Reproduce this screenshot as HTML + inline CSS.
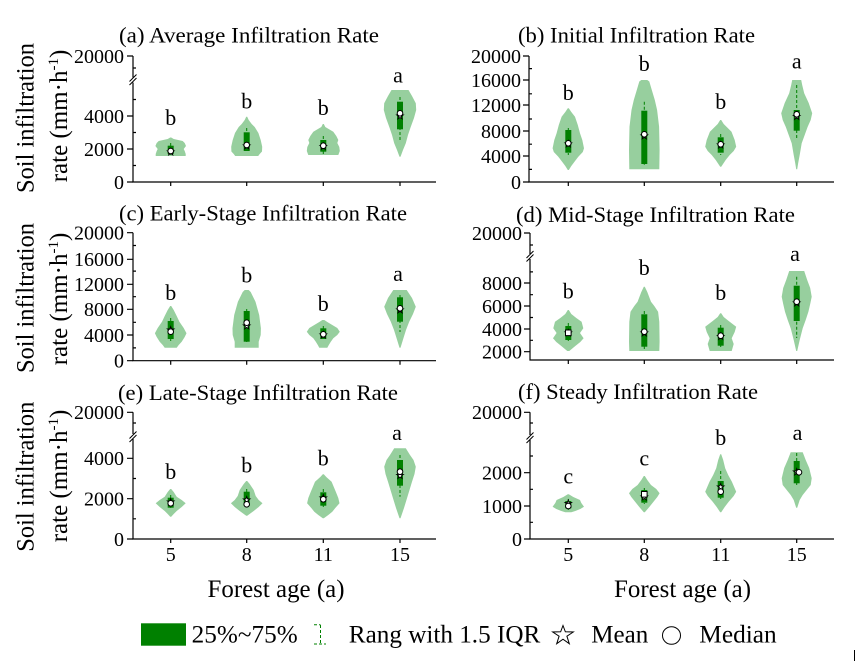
<!DOCTYPE html>
<html><head><meta charset="utf-8"><style>
html,body{margin:0;padding:0;background:#fff;}
svg{display:block;}
text{font-family:"Liberation Serif","Times New Roman",serif;fill:#000;}
.tk{font-size:20px;text-anchor:end;}
.xt{font-size:20px;text-anchor:middle;}
.tt{font-size:22px;}
.lt{font-size:22px;text-anchor:middle;}
.yl{font-size:25px;text-anchor:middle;}
.v{fill:#97cf9e;}
.bx{fill:#008000;}
.wh{stroke:#008000;stroke-width:1;stroke-dasharray:3,2;}
.ax{stroke:#000;stroke-width:1.2;fill:none;}
.md{fill:#fff;stroke:#000;stroke-width:1;}
</style></head><body>
<svg width="857" height="663" viewBox="0 0 857 663" xmlns="http://www.w3.org/2000/svg">
<defs>
<polygon id="st" points="0,-3.5 0.82,-1.13 3.33,-1.08 1.33,0.43 2.06,2.83 0,1.4 -2.06,2.83 -1.33,0.43 -3.33,-1.08 -0.82,-1.13" fill="#fff" stroke="#000" stroke-width="0.9"/>
</defs>
<rect width="857" height="663" fill="#fff"/>

<!-- Titles -->
<text class="tt" x="119" y="42.5" textLength="260" lengthAdjust="spacingAndGlyphs">(a) Average Infiltration Rate</text>
<text class="tt" x="518" y="42.5" textLength="237" lengthAdjust="spacingAndGlyphs">(b) Initial Infiltration Rate</text>
<text class="tt" x="119" y="220.7" textLength="288" lengthAdjust="spacingAndGlyphs">(c) Early-Stage Infiltration Rate</text>
<text class="tt" x="516" y="222" textLength="279" lengthAdjust="spacingAndGlyphs">(d) Mid-Stage Infiltration Rate</text>
<text class="tt" x="118" y="400" textLength="280" lengthAdjust="spacingAndGlyphs">(e) Late-Stage Infiltration Rate</text>
<text class="tt" x="518" y="399" textLength="240" lengthAdjust="spacingAndGlyphs">(f) Steady Infiltration Rate</text>

<!-- Y axis titles -->
<text class="yl" transform="translate(33.5,118) rotate(-90)" textLength="150" lengthAdjust="spacingAndGlyphs">Soil infiltration</text>
<text class="yl" transform="translate(67,116) rotate(-90)">rate (mm·h<tspan font-size="15" dy="-9">-1</tspan><tspan dy="9">)</tspan></text>
<text class="yl" transform="translate(33.5,298) rotate(-90)" textLength="150" lengthAdjust="spacingAndGlyphs">Soil infiltration</text>
<text class="yl" transform="translate(67,299) rotate(-90)">rate (mm·h<tspan font-size="15" dy="-9">-1</tspan><tspan dy="9">)</tspan></text>
<text class="yl" transform="translate(33.5,476.7) rotate(-90)" textLength="150" lengthAdjust="spacingAndGlyphs">Soil infiltration</text>
<text class="yl" transform="translate(67,476) rotate(-90)">rate (mm·h<tspan font-size="15" dy="-9">-1</tspan><tspan dy="9">)</tspan></text>

<!-- ===== Panel (a) ===== -->
<g>
<path class="ax" d="M133,56 V77.5 M133,82.5 V182 H436"/>
<path class="ax" d="M127,56 H133 M127,116 H133 M127,149 H133 M127,182 H133 M133,99.5 H136 M133,132.5 H136 M133,165.5 H136 M133,68 H136"/>
<path d="M129.5,81.5 L136.5,74.5 M129.5,85 L136.5,78" stroke="#000" stroke-width="1"/>
<path class="ax" d="M170.7,182 v4 M246.7,182 v4 M323.3,182 v4 M400,182 v4"/>
<text class="tk" x="124" y="62.8">20000</text>
<text class="tk" x="124" y="122.8">4000</text>
<text class="tk" x="124" y="155.8">2000</text>
<text class="tk" x="124" y="188.8">0</text>
<polygon class="v" transform="translate(170.7,0)" points="0.5,137.5 3,139 12,141 14,143 15.3,146 13,149 14,151 15,154 15,156 -15,156 -15,154 -14,151 -13,149 -15.3,146 -14,143 -12,141 -3,139 -0.5,137.5"/>
<polygon class="v" transform="translate(246.7,0)" points="0.5,116.7 2,120 5,124 8,127 11.7,133 14,140 15.5,146.7 15.3,151.5 13,154 11.5,156 -11.5,156 -13,154 -15.3,151.5 -15.5,146.7 -14,140 -11.7,133 -8,127 -5,124 -2,120 -0.5,116.7"/>
<polygon class="v" transform="translate(323.3,0)" points="0.5,124 2,127 10,131.7 13,136 15,140 14,143 16,147 16.5,151 15,155 -15,155 -16.5,151 -16,147 -14,143 -15,140 -13,136 -10,131.7 -2,127 -0.5,124"/>
<polygon class="v" transform="translate(400,0)" points="8.5,90 12,96 15.8,103.3 16.2,110 14,118 10.8,126.7 8,135 5.8,143.3 3,150 0.5,156.7 -0.5,156.7 -3,150 -5.8,143.3 -8,135 -10.8,126.7 -14,118 -16.2,110 -15.8,103.3 -12,96 -8.5,90"/>
<path class="wh" d="M170.7,143 V155 M246.7,128 V153 M323.3,136 V154 M400,97 V140"/>
<rect class="bx" x="167.7" y="145.7" width="6" height="8.3"/>
<rect class="bx" x="243.7" y="132.3" width="6" height="18.7"/>
<rect class="bx" x="320.3" y="140" width="6" height="11.7"/>
<rect class="bx" x="397" y="101.7" width="6" height="27.6"/>
<use href="#st" x="170.7" y="152"/><circle class="md" cx="170.7" cy="151" r="2.8"/>
<use href="#st" x="246.7" y="146"/><circle class="md" cx="246.7" cy="145" r="2.8"/>
<use href="#st" x="323.3" y="146.5"/><circle class="md" cx="323.3" cy="145.7" r="2.8"/>
<use href="#st" x="400" y="116"/><circle class="md" cx="400" cy="113.3" r="2.8"/>
<text class="lt" x="170.7" y="125">b</text>
<text class="lt" x="246.7" y="108.3">b</text>
<text class="lt" x="323.3" y="115">b</text>
<text class="lt" x="398" y="82.7">a</text>
</g>

<!-- ===== Panel (b) ===== -->
<g>
<path class="ax" d="M529,56 V182 H834"/>
<path class="ax" d="M523,56 H529 M523,80 H529 M523,105 H529 M523,131 H529 M523,156 H529 M523,182 H529 M529,169.4 H532 M529,144.2 H532 M529,119 H532 M529,93.8 H532 M529,68.6 H532"/>
<path class="ax" d="M568.3,182 v4 M644.3,182 v4 M720.7,182 v4 M796.7,182 v4"/>
<text class="tk" x="521" y="62.8">20000</text>
<text class="tk" x="521" y="86.8">16000</text>
<text class="tk" x="521" y="111.8">12000</text>
<text class="tk" x="521" y="137.8">8000</text>
<text class="tk" x="521" y="162.8">4000</text>
<text class="tk" x="521" y="188.8">0</text>
<polygon class="v" transform="translate(568.3,0)" points="0.5,108.3 3,112 6.7,116.7 9.5,125 11.7,133.3 14,140 15.7,148.3 14.5,152 10,156.7 6,162 3,166 0.5,170 -0.5,170 -3,166 -6,162 -10,156.7 -14.5,152 -15.7,148.3 -14,140 -11.7,133.3 -9.5,125 -6.7,116.7 -3,112 -0.5,108.3"/>
<polygon class="v" transform="translate(644.3,0)" points="3,80 5,81.5 7.5,90 10.5,100 12.8,110 14.8,126.7 15.3,150 15,169.3 -15,169.3 -15.3,150 -14.8,126.7 -12.8,110 -10.5,100 -7.5,90 -5,81.5 -3,80"/>
<polygon class="v" transform="translate(720.7,0)" points="0.5,120 3,124 10.8,131.7 14,140 15.5,146.7 13,151 9,155 5,160 0.5,166.7 -0.5,166.7 -5,160 -9,155 -13,151 -15.5,146.7 -14,140 -10.8,131.7 -3,124 -0.5,120"/>
<polygon class="v" transform="translate(796.7,0)" points="4.5,80 5.5,85 7.5,93.3 12,103 15.5,113.3 14,120 11,126.7 8,135 5,143.3 3,155 1.5,163 0.5,169.3 -0.5,169.3 -1.5,163 -3,155 -5,143.3 -8,135 -11,126.7 -14,120 -15.5,113.3 -12,103 -7.5,93.3 -5.5,85 -4.5,80"/>
<path class="wh" d="M568.3,128 V155 M644.3,101.7 V166 M720.7,134 V155 M796.7,85 V140"/>
<rect class="bx" x="565.3" y="130" width="6" height="22.7"/>
<rect class="bx" x="641.3" y="110.7" width="6" height="53.3"/>
<rect class="bx" x="717.7" y="137.3" width="6" height="15.4"/>
<rect class="bx" x="793.7" y="110" width="6" height="20.7"/>
<use href="#st" x="568.3" y="144"/><circle class="md" cx="568.3" cy="143.3" r="2.8"/>
<use href="#st" x="644.3" y="136"/><circle class="md" cx="644.3" cy="134.3" r="2.8"/>
<use href="#st" x="720.7" y="145"/><circle class="md" cx="720.7" cy="144.3" r="2.8"/>
<use href="#st" x="796.7" y="116.5"/><circle class="md" cx="796.7" cy="114.3" r="2.8"/>
<text class="lt" x="568.3" y="100">b</text>
<text class="lt" x="644.3" y="71">b</text>
<text class="lt" x="720.7" y="109">b</text>
<text class="lt" x="796.7" y="68.3">a</text>
</g>

<!-- ===== Panel (c) ===== -->
<g>
<path class="ax" d="M133,232.7 V360.7 H436"/>
<path class="ax" d="M127,232.7 H133 M127,259.3 H133 M127,284.3 H133 M127,309.3 H133 M127,335 H133 M127,360.7 H133 M133,347.9 H136 M133,322.3 H136 M133,296.7 H136 M133,271.1 H136 M133,245.5 H136"/>
<path class="ax" d="M170.7,360.7 v4 M246.7,360.7 v4 M323.3,360.7 v4 M400,360.7 v4"/>
<text class="tk" x="124" y="239.5">20000</text>
<text class="tk" x="124" y="266.1">16000</text>
<text class="tk" x="124" y="291.1">12000</text>
<text class="tk" x="124" y="316.1">8000</text>
<text class="tk" x="124" y="341.8">4000</text>
<text class="tk" x="124" y="367.5">0</text>
<polygon class="v" transform="translate(170.7,0)" points="0.5,306 3,310 6,316 8.7,321.7 13,328 15.8,333.3 14,337 11,341.7 8,345 6,347.7 -6,347.7 -8,345 -11,341.7 -14,337 -15.8,333.3 -13,328 -8.7,321.7 -6,316 -3,310 -0.5,306"/>
<polygon class="v" transform="translate(246.7,0)" points="2,290 4,292 8.8,301.7 12.5,315 14.2,328.3 14,335 12,341.7 12,347.7 -12,347.7 -12,341.7 -14,335 -14.2,328.3 -12.5,315 -8.8,301.7 -4,292 -2,290"/>
<polygon class="v" transform="translate(323.3,0)" points="1,320 4,322 9,325 14,328 16.5,331.7 14,335 10,338.3 7.5,341.7 5.5,345 4,347.7 -4,347.7 -5.5,345 -7.5,341.7 -10,338.3 -14,335 -16.5,331.7 -14,328 -9,325 -4,322 -1,320"/>
<polygon class="v" transform="translate(400,0)" points="6.7,290 12,298 15.8,306.7 13,314 9.2,321.7 6,330 3.5,338 0.5,347.7 -0.5,347.7 -3.5,338 -6,330 -9.2,321.7 -13,314 -15.8,306.7 -12,298 -6.7,290"/>
<path class="wh" d="M170.7,318 V341 M246.7,309 V344 M323.3,326 V341 M400,295 V332"/>
<rect class="bx" x="167.7" y="321" width="6" height="18"/>
<rect class="bx" x="243.7" y="311" width="6" height="30.7"/>
<rect class="bx" x="320.3" y="328.3" width="6" height="10.7"/>
<rect class="bx" x="397" y="297.3" width="6" height="24.4"/>
<use href="#st" x="170.7" y="330"/><circle class="md" cx="170.7" cy="331.7" r="2.8"/>
<use href="#st" x="246.7" y="326"/><circle class="md" cx="246.7" cy="322.7" r="2.8"/>
<use href="#st" x="323.3" y="335"/><circle class="md" cx="323.3" cy="334.3" r="2.8"/>
<use href="#st" x="400" y="310"/><circle class="md" cx="400" cy="308.3" r="2.8"/>
<text class="lt" x="170.7" y="300">b</text>
<text class="lt" x="246.7" y="282.3">b</text>
<text class="lt" x="323.3" y="311">b</text>
<text class="lt" x="398" y="281">a</text>
</g>

<!-- ===== Panel (d) ===== -->
<g>
<path class="ax" d="M530,233 V254 M530,259 V360 H834"/>
<path class="ax" d="M524,233 H530 M524,283 H530 M524,306 H530 M524,329 H530 M524,351.7 H530 M530,340.3 H533 M530,317.5 H533 M530,294.7 H533 M530,271.9 H533 M530,245 H533"/>
<path d="M526.5,258 L533.5,251 M526.5,261.5 L533.5,254.5" stroke="#000" stroke-width="1"/>
<path class="ax" d="M568.3,360 v4 M644.3,360 v4 M720.7,360 v4 M796.7,360 v4"/>
<text class="tk" x="522" y="239.8">20000</text>
<text class="tk" x="522" y="289.8">8000</text>
<text class="tk" x="522" y="312.8">6000</text>
<text class="tk" x="522" y="335.8">4000</text>
<text class="tk" x="522" y="358.5">2000</text>
<polygon class="v" transform="translate(568.3,0)" points="0.5,310 3,314 8,318 13.3,321.7 15,328.3 11.7,333 15.3,338.3 12,342 7,346 1,351 -1,351 -7,346 -12,342 -15.3,338.3 -11.7,333 -15,328.3 -13.3,321.7 -8,318 -3,314 -0.5,310"/>
<polygon class="v" transform="translate(644.3,0)" points="0.5,286.7 3,292 6.7,301.7 10,306 13.8,311.7 15,321.7 15.3,341.7 15,351 -15,351 -15.3,341.7 -15,321.7 -13.8,311.7 -10,306 -6.7,301.7 -3,292 -0.5,286.7"/>
<polygon class="v" transform="translate(720.7,0)" points="0.5,313.3 3,317 8,321 15.5,326.7 14,332 11,338.3 13,344 11,351 -11,351 -13,344 -11,338.3 -14,332 -15.5,326.7 -8,321 -3,317 -0.5,313.3"/>
<polygon class="v" transform="translate(796.7,0)" points="7.5,271 10.5,280 13.5,288 15,296.7 13.5,304 11.7,311.7 9,320 6,328.3 3,340 0.5,351 -0.5,351 -3,340 -6,328.3 -9,320 -11.7,311.7 -13.5,304 -15,296.7 -13.5,288 -10.5,280 -7.5,271"/>
<path class="wh" d="M568.3,323 V342 M644.3,311 V349 M720.7,325 V347 M796.7,276.7 V338"/>
<rect class="bx" x="565.3" y="326" width="6" height="14"/>
<rect class="bx" x="641.3" y="314.3" width="6" height="32.4"/>
<rect class="bx" x="717.7" y="327.7" width="6" height="18"/>
<rect class="bx" x="793.7" y="285.7" width="6" height="35.3"/>
<use href="#st" x="568.3" y="333"/><rect x="565.5" y="330" width="5.6" height="5.6" fill="#fff" stroke="#000" stroke-width="1"/>
<use href="#st" x="644.3" y="333"/><circle class="md" cx="644.3" cy="331.7" r="2.8"/>
<use href="#st" x="720.7" y="336.5"/><circle class="md" cx="720.7" cy="335.7" r="2.8"/>
<use href="#st" x="796.7" y="303"/><circle class="md" cx="796.7" cy="301.7" r="2.8"/>
<text class="lt" x="568.3" y="298.3">b</text>
<text class="lt" x="644.3" y="275">b</text>
<text class="lt" x="720.7" y="300">b</text>
<text class="lt" x="795" y="261">a</text>
</g>

<!-- ===== Panel (e) ===== -->
<g>
<path class="ax" d="M133,412.3 V434 M133,439 V539 H436"/>
<path class="ax" d="M127,412.3 H133 M127,458.3 H133 M127,498.7 H133 M127,539 H133 M133,518.8 H136 M133,478.5 H136 M133,423 H136"/>
<path d="M129.5,438.5 L136.5,431.5 M129.5,442 L136.5,435" stroke="#000" stroke-width="1"/>
<path class="ax" d="M170.7,539 v4 M246.7,539 v4 M323.3,539 v4 M400,539 v4"/>
<text class="tk" x="124" y="419.1">20000</text>
<text class="tk" x="124" y="465.1">4000</text>
<text class="tk" x="124" y="505.5">2000</text>
<text class="tk" x="124" y="545.8">0</text>
<polygon class="v" transform="translate(170.7,0)" points="0.5,489 3,492 6,496.7 11,500 15,503.3 11,507 6,511 3,514 0.5,516.7 -0.5,516.7 -3,514 -6,511 -11,507 -15,503.3 -11,500 -6,496.7 -3,492 -0.5,489"/>
<polygon class="v" transform="translate(246.7,0)" points="0.5,481 3,484 7,490 9,496 12,500 15.8,503.3 12,507 7,511 0.5,515.7 -0.5,515.7 -7,511 -12,507 -15.8,503.3 -12,500 -9,496 -7,490 -3,484 -0.5,481"/>
<polygon class="v" transform="translate(323.3,0)" points="0.5,474.3 3,477 8.3,481.7 12.5,491.7 15,498 16.2,503.3 12,508 9,511.7 5,515 0.5,518.3 -0.5,518.3 -5,515 -9,511.7 -12,508 -16.2,503.3 -15,498 -12.5,491.7 -8.3,481.7 -3,477 -0.5,474.3"/>
<polygon class="v" transform="translate(400,0)" points="5.8,448.3 10,455 13.5,460 15.8,466.7 14.5,474 12,481.7 9.5,490 7,498.3 4,508 0.5,518.3 -0.5,518.3 -4,508 -7,498.3 -9.5,490 -12,481.7 -14.5,474 -15.8,466.7 -13.5,460 -10,455 -5.8,448.3"/>
<path class="wh" d="M170.7,495 V510 M246.7,489 V508 M323.3,489 V509 M400,455 V496.7"/>
<rect class="bx" x="167.7" y="497.7" width="6" height="10"/>
<rect class="bx" x="243.7" y="491.7" width="6" height="14"/>
<rect class="bx" x="320.3" y="492.3" width="6" height="13.4"/>
<rect class="bx" x="397" y="460" width="6" height="25.7"/>
<use href="#st" x="170.7" y="502"/><circle class="md" cx="170.7" cy="503.3" r="2.8"/>
<use href="#st" x="246.7" y="500"/><circle class="md" cx="246.7" cy="504.3" r="2.8"/>
<use href="#st" x="323.3" y="498"/><circle class="md" cx="323.3" cy="499.3" r="2.8"/>
<use href="#st" x="400" y="475.5"/><circle class="md" cx="400" cy="471.7" r="2.8"/>
<text class="lt" x="170.7" y="479">b</text>
<text class="lt" x="246.7" y="472.3">b</text>
<text class="lt" x="323.3" y="465.7">b</text>
<text class="lt" x="397" y="440">a</text>
<text class="xt" x="170.7" y="561">5</text>
<text class="xt" x="246.7" y="561">8</text>
<text class="xt" x="323.3" y="561">11</text>
<text class="xt" x="400" y="561">15</text>
<text class="yl" x="276" y="597" textLength="137" lengthAdjust="spacingAndGlyphs">Forest age (a)</text>
</g>

<!-- ===== Panel (f) ===== -->
<g>
<path class="ax" d="M530,412.3 V435 M530,440 V539 H834"/>
<path class="ax" d="M524,412.3 H530 M524,472.7 H530 M524,506 H530 M524,539 H530 M530,522.3 H533 M530,489.3 H533 M530,456 H533 M530,423 H533"/>
<path d="M526.5,439.5 L533.5,432.5 M526.5,443 L533.5,436" stroke="#000" stroke-width="1"/>
<path class="ax" d="M568.3,539 v4 M644.3,539 v4 M720.7,539 v4 M796.7,539 v4"/>
<text class="tk" x="522" y="419.1">20000</text>
<text class="tk" x="522" y="479.5">2000</text>
<text class="tk" x="522" y="512.8">1000</text>
<text class="tk" x="522" y="545.8">0</text>
<polygon class="v" transform="translate(568.3,0)" points="0.5,494.3 5,497 11.7,500 13,503 15.7,506.7 12,509 7,511 3,512.3 -3,512.3 -7,511 -12,509 -15.7,506.7 -13,503 -11.7,500 -5,497 -0.5,494.3"/>
<polygon class="v" transform="translate(644.3,0)" points="0.5,476 3,480 6.7,485 12,489 15.3,493.3 13,497 9,502 5,507 0.5,512.3 -0.5,512.3 -5,507 -9,502 -13,497 -15.3,493.3 -12,489 -6.7,485 -3,480 -0.5,476"/>
<polygon class="v" transform="translate(720.7,0)" points="0.5,454.3 2.5,460 4.5,468.3 7.5,475 11.2,481.7 15.5,491.7 13,496 8,501.7 4,507 0.5,512.3 -0.5,512.3 -4,507 -8,501.7 -13,496 -15.5,491.7 -11.2,481.7 -7.5,475 -4.5,468.3 -2.5,460 -0.5,454.3"/>
<polygon class="v" transform="translate(796.7,0)" points="6,452.3 9,460 12.5,468 15,478.3 14,485 10,490 6,495 3,500 0.5,507.7 -0.5,507.7 -3,500 -6,495 -10,490 -14,485 -15,478.3 -12.5,468 -9,460 -6,452.3"/>
<path class="wh" d="M568.3,499 V510 M644.3,488 V504 M720.7,471 V500 M796.7,453 V485"/>
<rect class="bx" x="565.3" y="501" width="6" height="7.3"/>
<rect class="bx" x="641.3" y="490" width="6" height="12.7"/>
<rect class="bx" x="717.7" y="481" width="6" height="16.7"/>
<rect class="bx" x="793.7" y="461" width="6" height="22.3"/>
<use href="#st" x="568.3" y="503.5"/><circle class="md" cx="568.3" cy="506" r="2.8"/>
<use href="#st" x="644.3" y="497"/><rect x="641.5" y="491.5" width="5.6" height="5.6" fill="#fff" stroke="#000" stroke-width="1"/>
<use href="#st" x="720.7" y="487"/><circle class="md" cx="720.7" cy="491.7" r="2.8"/>
<use href="#st" x="796.7" y="472"/><circle class="md" cx="799" cy="472.3" r="2.8"/>
<text class="lt" x="568.3" y="483.3">c</text>
<text class="lt" x="644.3" y="465.7">c</text>
<text class="lt" x="720.7" y="445">b</text>
<text class="lt" x="797.5" y="440">a</text>
<text class="xt" x="568.3" y="561">5</text>
<text class="xt" x="644.3" y="561">8</text>
<text class="xt" x="720.7" y="561">11</text>
<text class="xt" x="796.7" y="561">15</text>
<text class="yl" x="682.5" y="597" textLength="137" lengthAdjust="spacingAndGlyphs">Forest age (a)</text>
</g>

<!-- ===== Legend ===== -->
<rect x="141" y="623.3" width="45" height="22.4" fill="#008000"/>
<text x="191.7" y="642.3" font-size="25" textLength="106" lengthAdjust="spacingAndGlyphs">25%~75%</text>
<path d="M314,624.8 H320.5 M314,644 H326 M320.5,625 V644" stroke="#008000" stroke-width="1" stroke-dasharray="3,2" fill="none"/>
<text x="348.8" y="642.3" font-size="25" textLength="191.5" lengthAdjust="spacingAndGlyphs">Rang with 1.5 IQR</text>
<polygon transform="translate(563,635)" points="0,-9.5 2.35,-3.2 10.3,-3 3.9,1.2 6.3,8.7 0,4.2 -6.3,8.7 -3.9,1.2 -10.3,-3 -2.35,-3.2" fill="#fff" stroke="#000" stroke-width="1"/>
<text x="591.3" y="642.3" font-size="25" textLength="57" lengthAdjust="spacingAndGlyphs">Mean</text>
<ellipse cx="671.5" cy="635.5" rx="9" ry="8.8" fill="#fff" stroke="#000" stroke-width="1"/>
<text x="699.3" y="642.3" font-size="25" textLength="77.4" lengthAdjust="spacingAndGlyphs">Median</text>
<path d="M854.5,650 V661" stroke="#000" stroke-width="1"/>
</svg>
</body></html>
